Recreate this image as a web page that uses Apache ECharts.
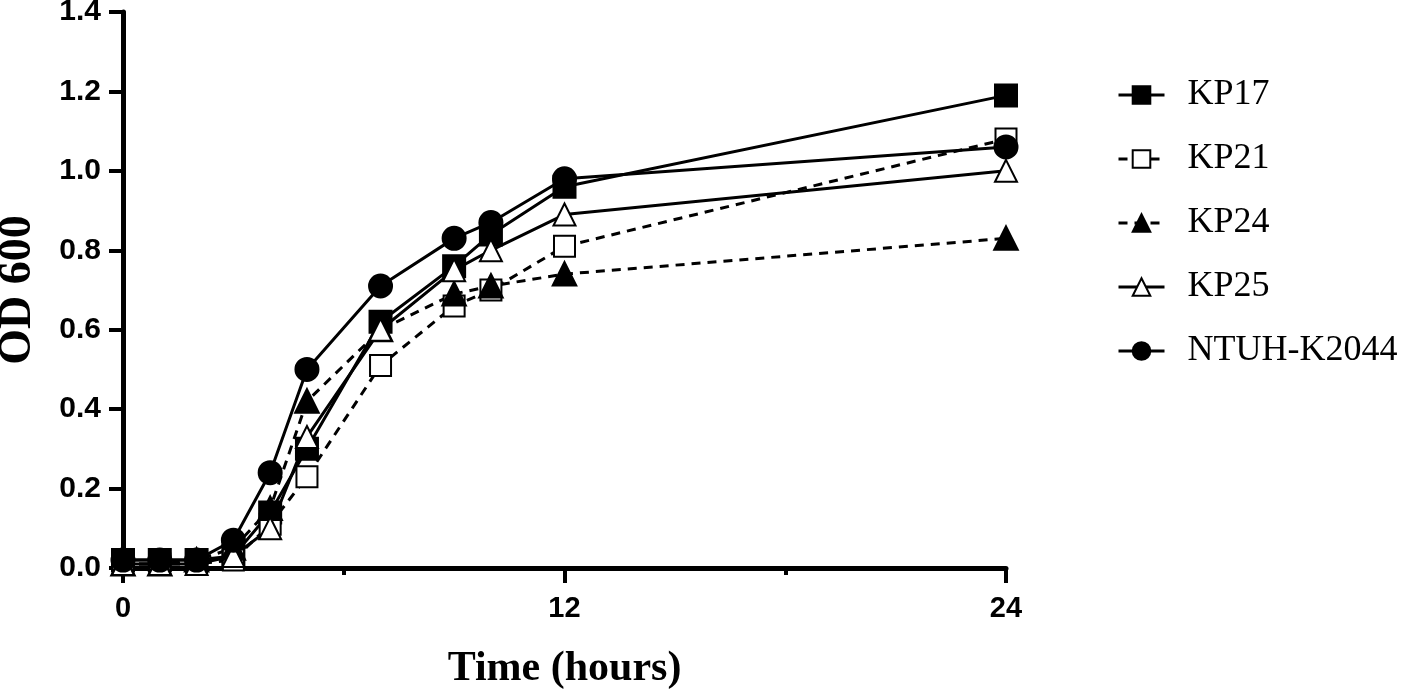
<!DOCTYPE html>
<html>
<head>
<meta charset="utf-8">
<script src="https://cdn.jsdelivr.net/npm/echarts@6/dist/echarts.min.js"></script>
<style>
html,body{margin:0;padding:0;background:#fff;}
#chart{width:1416px;height:695px;}
</style>
</head>
<body>
<div id="chart"></div>
<script>
const hours = [0, 1, 2, 3, 4, 5, 7, 9, 10, 12, 24];
const kp17 = [0.02, 0.02, 0.02, 0.03, 0.14, 0.30, 0.62, 0.76, 0.84, 0.96, 1.19];
const kp21 = [0.01, 0.01, 0.01, 0.02, 0.11, 0.23, 0.51, 0.66, 0.70, 0.81, 1.08];
const kp24 = [0.01, 0.01, 0.02, 0.05, 0.15, 0.42, 0.60, 0.69, 0.71, 0.74, 0.83];
const kp25 = [0.01, 0.01, 0.01, 0.03, 0.10, 0.33, 0.60, 0.75, 0.80, 0.89, 1.00];
const ntuh = [0.02, 0.02, 0.02, 0.07, 0.24, 0.50, 0.71, 0.83, 0.87, 0.98, 1.06];
const seriesNames = ['KP17', 'KP21', 'KP24', 'KP25', 'NTUH-K2044'];
const xTickLabels = {0: '0', 12: '12', 24: '24'};

function pairs(vals) { return hours.map((h, i) => [h, vals[i]]); }

function mk(name, vals, symbol, dashed, size) {
  return {
    name: name,
    type: 'line',
    data: pairs(vals),
    symbol: symbol,
    symbolSize: size,
    showAllSymbol: true,
    lineStyle: { color: '#000', width: 3, type: dashed ? [9, 7] : 'solid' },
    itemStyle: { color: '#000', borderColor: '#000', borderWidth: 3 },
    emphasis: { disabled: true },
    animation: false
  };
}

const chart = echarts.init(document.getElementById('chart'), null, { renderer: 'canvas' });
chart.setOption({
  backgroundColor: '#fff',
  animation: false,
  grid: { left: 123, right: 410, top: 12, bottom: 127, containLabel: false, outerBoundsMode: 'none' },
  legend: {
    orient: 'vertical',
    left: 1112,
    top: 70,
    itemWidth: 46,
    itemHeight: 22,
    itemGap: 24,
    lineStyle: { width: 3 },
    textStyle: { fontFamily: 'Liberation Serif, Times New Roman, serif', fontSize: 36, lineHeight: 40, color: '#000', padding: [0, 0, 0, 18] },
    data: seriesNames
  },
  xAxis: {
    type: 'value',
    min: 0, max: 24, interval: 12,
    name: 'Time (hours)',
    nameLocation: 'middle',
    nameGap: 80,
    nameTextStyle: { fontFamily: 'Liberation Serif, Times New Roman, serif', fontWeight: 'bold', fontSize: 42, color: '#000' },
    axisLine: { show: true, lineStyle: { color: '#000', width: 5 } },
    axisTick: { show: true, length: 15, lineStyle: { color: '#000', width: 4 } },
    minorTick: { show: true, splitNumber: 2, length: 7, lineStyle: { color: '#000', width: 4 } },
    splitLine: { show: false },
    minorSplitLine: { show: false },
    axisLabel: {
      margin: 26,
      fontFamily: 'Liberation Sans, Arial, sans-serif', fontWeight: 'bold', fontSize: 29, color: '#000',
      formatter: v => (xTickLabels[v] !== undefined ? xTickLabels[v] : '')
    }
  },
  yAxis: {
    type: 'value',
    min: 0, max: 1.4, interval: 0.2,
    name: 'OD 600',
    nameLocation: 'middle',
    nameGap: 82,
    nameRotate: 90,
    nameTextStyle: { fontFamily: 'Liberation Serif, Times New Roman, serif', fontWeight: 'bold', fontSize: 46, color: '#000' },
    axisLine: { show: true, lineStyle: { color: '#000', width: 5 } },
    axisTick: { show: true, length: 14, lineStyle: { color: '#000', width: 4 } },
    splitLine: { show: false },
    axisLabel: {
      margin: 22,
      fontFamily: 'Liberation Sans, Arial, sans-serif', fontWeight: 'bold', fontSize: 30, color: '#000',
      formatter: v => v.toFixed(1)
    }
  },
  series: [
    mk('KP17', kp17, 'rect', false, 21),
    mk('KP21', kp21, 'emptyRect', true, 21),
    mk('KP24', kp24, 'triangle', true, 22),
    mk('KP25', kp25, 'emptyTriangle', false, 22),
    mk('NTUH-K2044', ntuh, 'circle', false, 22)
  ]
});
</script>
</body>
</html>
